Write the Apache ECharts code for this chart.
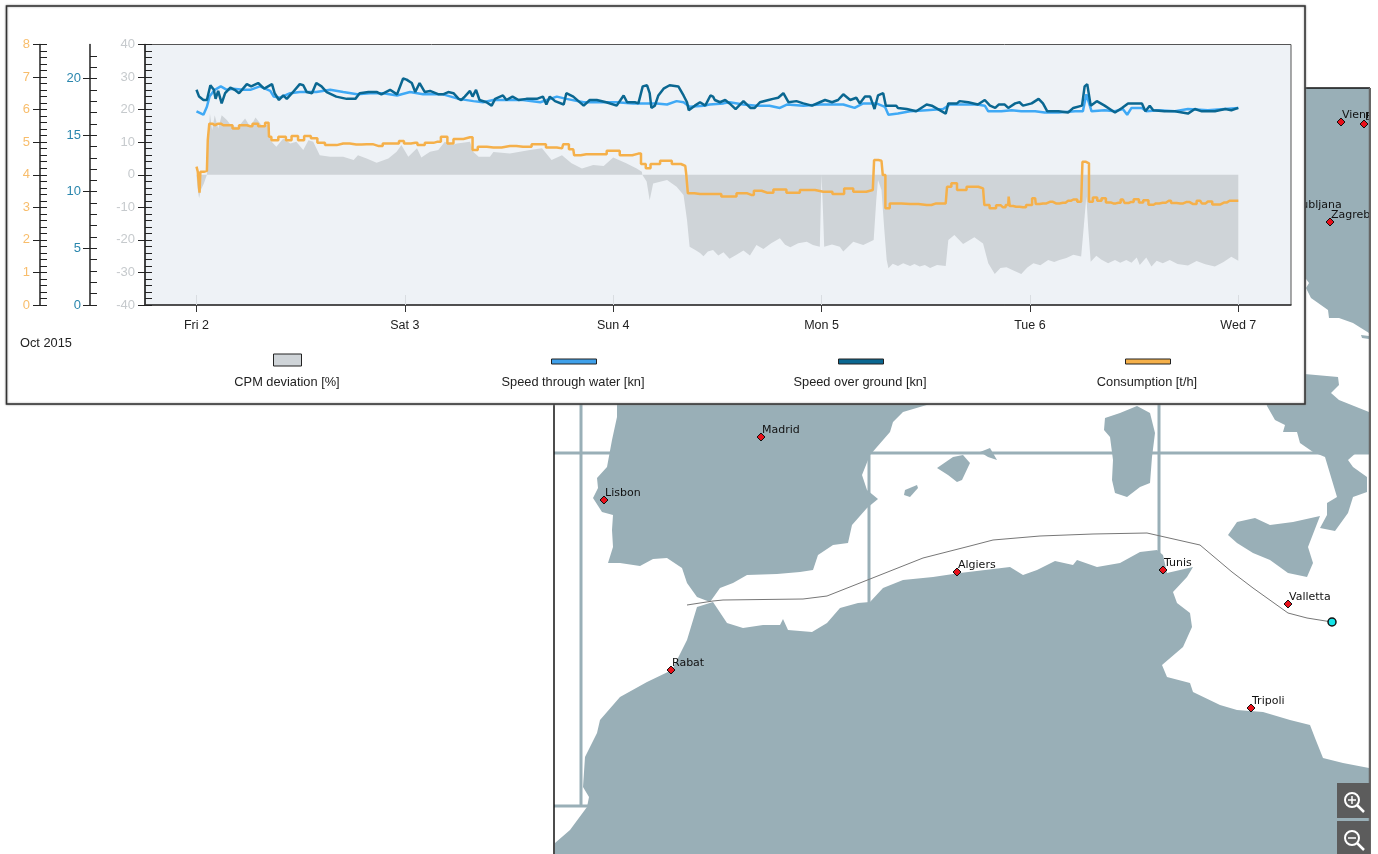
<!DOCTYPE html>
<html>
<head>
<meta charset="utf-8">
<title>Voyage performance</title>
<style>
  html, body { margin: 0; padding: 0; background: #fff; }
  #chart { width: 1378px; height: 854px; }
</style>
<script src="https://cdn.jsdelivr.net/npm/echarts@6/dist/echarts.min.js"></script>
</head>
<body>
<div id="chart"></div>
<script>
// hours counted from Fri 2 Oct 2015 00:00
var dayTicks = [0, 24, 48, 72, 96, 120]
var dayLabels = ['Fri 2', 'Sat 3', 'Sun 4', 'Mon 5', 'Tue 6', 'Wed 7']

var cpmTicks = [-40, -30, -20, -10, 0, 10, 20, 30, 40]
var speedTicks = [0, 5, 10, 15, 20]
var consTicks = [0, 1, 2, 3, 4, 5, 6, 7, 8]

var seriesNames = ['CPM deviation [%]', 'Speed through water [kn]', 'Speed over ground [kn]', 'Consumption [t/h]']

// CPM deviation [%]
var cpmHours = [0, 0.1, 0.3, 0.5, 0.85, 1.2, 1.4, 1.55, 1.8, 2.1, 2.5, 2.9, 3.5, 4.05, 4.8, 5.6, 6.2, 6.8, 7.5, 8.3, 8.5, 9.2, 10, 10.8, 11.5, 12.3, 12.9, 13.45, 14.2, 15.4, 16.9, 18.1, 18.6, 19.6, 20.75, 22.1, 23.05, 23.6, 24.4, 25.4, 25.9, 26.9, 27.85, 28.6, 29.4, 30, 31.5, 31.9, 32.5, 33.8, 34.2, 36.1, 38.4, 39.8, 40.9, 42.1, 43.2, 44.4, 45.7, 46.9, 48, 49.5, 50.7, 51.3, 51.35, 51.85, 52.2, 52.6, 54.2, 55.3, 56.1, 56.5, 56.8, 57.5, 58, 58.4, 58.9, 59.5, 60.1, 60.7, 61.4, 62.2, 63, 63.75, 64.5, 65.3, 66.2, 67.2, 67.8, 68.4, 69.3, 70.3, 71, 71.8, 71.9, 72, 72.15, 72.3, 73.2, 74.1, 74.5, 75.65, 76.8, 78, 78.3, 78.5, 78.9, 79.2, 79.5, 79.7, 80.2, 80.8, 81.4, 82.2, 82.7, 83.3, 83.9, 84.5, 85.3, 86.3, 86.6, 87.3, 88.3, 89.6, 90.6, 91.2, 91.95, 92.6, 93.3, 94.1, 95, 95.7, 96.4, 97.2, 98.1, 98.8, 99.4, 100.2, 101, 101.9, 102.2, 102.5, 102.7, 103, 103.65, 104.2, 105, 105.8, 106.4, 107.1, 107.7, 108.3, 108.65, 109.4, 110, 110.6, 111.3, 112.1, 113, 114.2, 115.2, 116.2, 117.3, 118.3, 119.2, 120]
var cpmValues = [0, -3.7, -7.2, -4.7, -2.7, 0, 12.7, 18.8, 13.7, 18.3, 14.2, 18.3, 16.8, 14.9, 14.7, 17.3, 14.7, 17.6, 15.2, 15.5, 10.6, 8.6, 11.1, 9.6, 10.1, 7.6, 10.6, 10.1, 6, 5.5, 5.5, 4.5, 6, 5, 3.7, 5, 7.1, 9.1, 5.5, 8.1, 5.3, 7.1, 7.6, 10.1, 9.1, 9.6, 10.1, 7, 5.5, 5.5, 7, 6.5, 7.6, 8.1, 4.5, 6, 3.5, 1.9, 3, 2.7, 5.3, 3.5, 1.9, 0.9, 0, -2.1, -7.8, -2.7, -1.6, -3.7, -6.2, -13.9, -22.1, -23.2, -24, -25, -23.6, -23.1, -24.8, -23.8, -25.8, -24.6, -23.3, -24.8, -21.6, -22.8, -21, -19.5, -21.5, -22.3, -21, -20.6, -21.6, -22.1, -10.3, 0, -10.3, -22.1, -21.4, -22.1, -23.6, -20.6, -21.6, -20, -7.8, -1.6, -4.7, -16, -26.2, -28.7, -27.3, -28, -27.2, -28, -27.4, -28.2, -27.7, -28.6, -27.7, -28, -20, -18.5, -21.3, -19.2, -21.1, -27.2, -30.5, -28.6, -28.4, -29.4, -30.5, -28.5, -27.2, -27.8, -26.2, -26.8, -26.2, -25.6, -24.6, -25.1, -16, -6.7, -16, -26.7, -24.9, -26, -27.2, -26.2, -27, -26.2, -27, -25.4, -27.7, -25.4, -28.2, -26.4, -27.2, -26.2, -27.4, -27.9, -26.5, -27.5, -28.2, -26.8, -25.2, -26.4]

// Speed through water [kn]
var stwHours = [0, 0.8, 1.2, 1.5, 2.1, 2.8, 3.5, 4.2, 5.4, 6.2, 7.3, 8.5, 8.9, 9.6, 10.8, 11.9, 13.8, 15.4, 16.9, 18.5, 20, 21.5, 23.1, 24.6, 26.1, 28.4, 30.2, 31.9, 33, 34.2, 36.1, 37.6, 39.6, 41.5, 42.6, 44.6, 46.5, 48.4, 50.3, 51.5, 53, 54.2, 55.3, 56.1, 56.8, 58.4, 59.1, 60.7, 61.4, 63, 64.5, 66, 67.2, 68, 69.9, 71.8, 74.5, 75.8, 76.8, 78.3, 79.3, 79.7, 80.8, 82.2, 84.1, 86, 86.8, 89.9, 90.8, 91.2, 92.7, 93.9, 95, 96.6, 97.7, 99.3, 101.2, 102.1, 102.5, 102.7, 103.1, 104.6, 105.8, 106.7, 107.2, 107.7, 108.9, 109.4, 110.8, 112.7, 114.2, 116.5, 120]
var stwValues = [17.1, 16.8, 17.5, 18.4, 19, 19.3, 19, 19.1, 19, 19, 19.3, 18.9, 18.4, 18.3, 18.7, 18.8, 18.8, 19, 18.8, 18.6, 18.7, 18.7, 18.5, 18.8, 18.6, 18.6, 18.2, 18, 17.9, 18.1, 18.1, 18.1, 17.9, 18.4, 18.2, 17.9, 17.9, 17.9, 17.8, 17.8, 17.8, 17.7, 18, 17.9, 17.5, 17.6, 17.7, 17.8, 17.9, 17.7, 17.6, 17.6, 17.4, 17.7, 17.6, 17.7, 17.7, 17.4, 17.8, 17.8, 17.5, 16.8, 16.9, 17.1, 17.2, 17.3, 17.7, 17.7, 17.6, 17.1, 17.1, 17.2, 17.1, 17.1, 17, 17, 17.1, 17.1, 18.6, 18.6, 17.1, 17.2, 17.1, 17.3, 16.8, 17.4, 17.4, 17.1, 17.2, 17.1, 17.3, 17.2, 17.4]

// Speed over ground [kn]
var sogHours = [0, 0.3, 0.8, 1.2, 1.6, 2, 2.2, 2.5, 2.9, 3.3, 3.9, 4.4, 4.9, 5.8, 6.3, 7.1, 7.8, 8.7, 9, 9.5, 10, 10.4, 11, 11.9, 12.3, 12.7, 13.3, 13.8, 14.4, 15, 16.1, 17.3, 18.3, 18.8, 19.8, 20.8, 21.3, 22.3, 23.1, 23.8, 24.2, 24.8, 25.2, 25.7, 26.3, 26.9, 27.9, 28.4, 29, 29.6, 30.2, 30.5, 30.9, 31.5, 31.8, 32.2, 32.6, 33.4, 34, 34.4, 35.3, 35.7, 36.4, 37.1, 38, 39.2, 39.9, 40.3, 40.7, 41.3, 42.3, 42.6, 43.4, 44, 44.6, 45.3, 46.1, 47.2, 48.4, 49.2, 49.6, 50.5, 50.9, 51.4, 51.9, 52.2, 52.4, 52.8, 53.2, 53.8, 54.5, 55.5, 56.1, 56.5, 56.7, 57.4, 58, 58.6, 59.2, 59.5, 59.7, 60.3, 60.9, 61.4, 62.1, 63, 63.8, 64.3, 64.9, 65.9, 66.4, 67, 67.6, 68.2, 69.1, 69.9, 70.9, 71.8, 72, 72.4, 73.2, 73.9, 74.5, 75.3, 76, 76.4, 77, 77.6, 78.1, 78.5, 79.1, 79.4, 80.6, 80.8, 81.8, 82.9, 84.1, 84.7, 85.4, 86.3, 86.6, 87.6, 87.9, 88.9, 90, 90.4, 90.8, 91.4, 92, 92.4, 93.1, 93.5, 94.3, 94.8, 95.2, 96.2, 97, 97.5, 98, 99.3, 100.4, 101, 102, 102.3, 102.6, 103, 103.7, 104.6, 105.8, 106.6, 107.3, 108.9, 109.3, 109.8, 110.2, 111.5, 112.7, 114.2, 115, 115.8, 117.3, 118.5, 119.2, 120]
var sogValues = [19, 18.4, 18.1, 18.1, 19.4, 19, 18.2, 18.9, 17.8, 18.7, 19.2, 19, 18.7, 19.5, 19.3, 19.6, 19.1, 19.5, 18.7, 18.1, 18.5, 18.2, 18.7, 19.5, 19.4, 18.8, 18.7, 19.6, 19.3, 18.8, 18.4, 18.2, 18.2, 18.7, 18.8, 18.8, 18.6, 19, 18.6, 20, 19.9, 19.6, 18.8, 19.6, 18.8, 18.9, 18.6, 18.6, 18.8, 18.7, 18.2, 18.1, 18.4, 18.9, 18.4, 19, 18.1, 17.9, 17.6, 18.2, 18.5, 18.1, 18.4, 18.1, 18.2, 18.2, 18.4, 17.7, 18.4, 18, 17.7, 18.7, 18.4, 18, 17.6, 18.1, 18.1, 17.9, 17.6, 18.5, 17.9, 17.9, 17.8, 19.3, 19.4, 18.7, 17.4, 17.6, 18.5, 19.1, 19.4, 19.3, 18.5, 17.9, 17.2, 17.6, 17.9, 17.6, 18.5, 18.4, 18.1, 17.9, 18.1, 17.8, 17.3, 18, 17.4, 17.4, 17.9, 18.1, 18.2, 18.3, 18.7, 17.9, 18, 17.8, 17.6, 17.9, 17.8, 18.1, 17.9, 18.1, 18.6, 18.1, 18.3, 17.8, 18.4, 18.4, 17.3, 18.5, 18.7, 17.6, 17.6, 17.4, 17.3, 17.1, 17.7, 17.6, 17.3, 16.9, 17.8, 17.8, 18, 17.9, 17.7, 17.9, 18.1, 17.6, 17.4, 17.7, 17.7, 17.4, 17.8, 17.9, 17.6, 17.8, 18.2, 17.8, 17.1, 17.1, 17, 17.4, 17.6, 19.3, 19.5, 17.6, 18, 17.6, 17, 17.4, 17.8, 17.8, 17.1, 17.6, 17.2, 17.1, 17.1, 16.9, 17.3, 17.1, 17.1, 17.3, 17.2, 17.4]

// Consumption [t/h]
var consHours = [0, 0.3, 0.4, 0.5, 1.2, 1.4, 1.55, 2.1, 2.5, 3.1, 3.9, 4.4, 5.4, 6.2, 6.7, 7.5, 8.3, 8.4, 8.85, 10, 10.6, 11.3, 12.1, 12.7, 13.65, 14.2, 15.4, 16.9, 18.4, 19.6, 21, 21.9, 23.05, 23.6, 24.2, 25.2, 25.7, 26.9, 27.7, 28.6, 29.2, 30, 31.5, 32.1, 32.7, 34.2, 36.1, 37.6, 39.6, 40.9, 42.1, 42.4, 43.4, 43.6, 44.9, 46.5, 48, 49.5, 50.9, 51.5, 52, 52.6, 54.2, 55.3, 56.3, 56.5, 56.7, 58, 59.5, 61.4, 63, 63.9, 64.5, 65.7, 67.2, 68.7, 70.3, 72.2, 74.3, 74.9, 76.4, 77.9, 78.2, 78.9, 79.2, 79.5, 80.2, 82.2, 84.1, 85.2, 86.3, 86.6, 87.3, 87.9, 89.5, 90.6, 90.9, 91.8, 92.4, 92.9, 93.5, 93.6, 93.75, 94.4, 95.2, 95.9, 96.6, 96.75, 97.5, 98.3, 99, 99.8, 100.4, 101, 101.9, 102.2, 102.6, 103, 103.5, 104, 104.5, 105, 105.6, 106.2, 106.7, 107.1, 107.6, 108.3, 108.8, 109.3, 110, 110.5, 111.3, 112, 112.5, 113.3, 114, 114.8, 115.6, 116, 116.5, 117.5, 118.4, 119, 120]
var consValues = [4.25, 4.09, 3.45, 4.09, 4.12, 5.06, 5.57, 5.52, 5.57, 5.52, 5.52, 5.42, 5.52, 5.49, 5.57, 5.49, 5.6, 5.17, 5.06, 5.17, 5.06, 5.19, 5.06, 5.19, 5.12, 4.98, 4.91, 4.96, 4.93, 4.94, 4.88, 4.96, 4.96, 5.04, 4.96, 4.98, 4.91, 4.98, 5.01, 5.17, 4.96, 5.1, 5.15, 4.76, 4.86, 4.84, 4.88, 4.86, 4.94, 4.84, 4.81, 4.94, 4.78, 4.6, 4.63, 4.63, 4.74, 4.6, 4.65, 4.33, 4.2, 4.33, 4.43, 4.33, 4.27, 4.04, 3.43, 3.41, 3.41, 3.33, 3.43, 3.38, 3.51, 3.45, 3.55, 3.45, 3.53, 3.48, 3.41, 3.58, 3.48, 3.53, 4.45, 4.43, 3.99, 2.97, 3.12, 3.1, 3.07, 3.12, 3.12, 3.63, 3.74, 3.53, 3.63, 3.58, 3.07, 2.97, 3.06, 3, 3.07, 3.33, 3.04, 3.02, 3, 3.07, 3.28, 3.1, 3.12, 3.17, 3.12, 3.14, 3.2, 3.24, 3.17, 4.4, 4.35, 3.17, 3.3, 3.2, 3.28, 3.15, 3.12, 3.14, 3.24, 3.13, 3.16, 3.25, 3.15, 3.22, 3.08, 3.12, 3.14, 3.2, 3.13, 3.12, 3.16, 3.1, 3.2, 3.12, 3.18, 3.09, 3.15, 3.2, 3.2]

// map behind the chart, page pixels
var landColor = '#99afb7'
var iberia = [[617,404],[617,417],[612,440],[607,467],[597,478],[598,488],[593,498],[602,512],[613,515],[612,530],[613,547],[608,563],[620,563],[640,566],[653,559],[667,558],[682,568],[687,583],[697,597],[710,602],[720,588],[733,583],[747,575],[777,574],[800,572],[813,570],[818,555],[833,545],[848,543],[852,525],[867,508],[878,499],[867,490],[862,475],[870,455],[890,432],[893,422],[903,412],[930,404]]
var africa = [[555,843],[570,830],[587,807],[589,797],[583,787],[585,757],[597,733],[600,720],[620,697],[647,682],[672,670],[687,640],[697,607],[713,602],[717,608],[727,623],[743,628],[763,625],[780,625],[783,619],[788,630],[812,632],[827,623],[840,608],[858,603],[870,602],[883,588],[903,580],[933,577],[960,573],[1010,567],[1023,575],[1037,570],[1055,561],[1073,565],[1077,560],[1097,567],[1120,563],[1140,552],[1157,550],[1163,555],[1167,573],[1193,567],[1187,577],[1173,592],[1177,603],[1190,613],[1192,627],[1183,647],[1162,665],[1167,677],[1190,683],[1193,692],[1220,705],[1237,710],[1263,712],[1290,720],[1310,725],[1315,738],[1323,758],[1343,763],[1369,768],[1369,854],[555,854]]
var mallorca = [[937,468],[953,457],[963,455],[970,463],[962,480],[957,482],[948,475]]
var minorca = [[980,452],[990,448],[997,460],[988,457]]
var ibiza = [[905,490],[917,485],[918,488],[910,497],[904,495]]
var sardinia = [[1105,418],[1120,413],[1137,406],[1150,413],[1155,433],[1152,457],[1150,483],[1140,487],[1127,497],[1115,493],[1112,480],[1113,460],[1110,437],[1104,430]]
var sicily = [[1228,535],[1237,522],[1255,518],[1270,525],[1293,522],[1320,516],[1308,547],[1313,563],[1307,577],[1288,573],[1270,560],[1253,553],[1237,543]]
var italy = [[1260,370],[1338,377],[1339,385],[1331,393],[1339,400],[1369,412],[1369,452],[1357,452],[1348,460],[1353,467],[1367,477],[1367,492],[1353,497],[1348,513],[1335,531],[1320,528],[1327,515],[1327,503],[1337,497],[1325,457],[1313,452],[1300,443],[1297,432],[1283,432],[1285,425],[1275,420],[1267,406]]
var europe = [[1300,88],[1369,88],[1369,333],[1353,323],[1339,318],[1329,318],[1328,310],[1311,298],[1306,288],[1309,283],[1306,279],[1300,279]]
var route = [[687,605],[713,601],[723,600],[803,599],[827,596],[870,579],[923,558],[970,546],[993,540],[1040,536],[1093,534],[1147,533],[1200,545],[1232,572],[1253,588],[1288,613],[1307,618],[1332,622]]
var gridLines = [[554,453,1369,453],[581,404,581,806],[554,806,590,806],[869,453,869,605],[1159,404,1159,555]]
var cities = [
  ['Madrid', 761, 437], ['Lisbon', 604, 500], ['Rabat', 671, 670], ['Algiers', 957, 572], ['Tunis', 1163, 570],
  ['Valletta', 1288, 604], ['Tripoli', 1251, 708], ['Vienna', 1341, 122], ['Bratislava', 1364, 124], ['Zagreb', 1330, 222]
]

function land(points) {
  return { type: 'polygon', z: -5, silent: true, shape: { points: points }, style: { fill: landColor } }
}
function line(x1, y1, x2, y2, color, width, z) {
  return { type: 'line', z: z, silent: true, shape: { x1: x1, y1: y1, x2: x2, y2: y2 }, style: { stroke: color, lineWidth: width } }
}
function label(text, x, y, z, style) {
  var s = { text: text, x: x, y: y, fill: '#222', font: '12.8px "Liberation Sans"', textAlign: 'left', textVerticalAlign: 'middle' }
  for (var k in style) s[k] = style[k]
  return { type: 'text', z: z, silent: true, style: s }
}

function mapElements() {
  var els = [iberia, africa, mallorca, minorca, ibiza, sardinia, sicily, italy, europe].map(land)
  els.push({ type: 'polygon', z: -5, silent: true, shape: { points: [[1361,335],[1369,336],[1369,339],[1362,338]] }, style: { fill: landColor } })
  gridLines.forEach(function (g) { els.unshift(line(g[0], g[1], g[2], g[3], landColor, 3, -6)) })
  els.push({ type: 'polyline', z: -4, silent: true, shape: { points: route }, style: { stroke: '#777', lineWidth: 1, fill: null } })
  cities.forEach(function (c) {
    els.push({ type: 'polygon', z: -3, silent: true, shape: { points: [[c[1], c[2] - 4], [c[1] + 4, c[2]], [c[1], c[2] + 4], [c[1] - 4, c[2]]] }, style: { fill: '#e8101a', stroke: '#111', lineWidth: 1 } })
    els.push(label(c[0], c[1] + 1, c[2] - 7, -3, { font: '11px "DejaVu Sans"', fill: '#111' }))
  })
  els.push(label('Ljubljana', 1292, 205, -3, { font: '11px "DejaVu Sans"', fill: '#111' }))
  els.push({ type: 'circle', z: -3, silent: true, shape: { cx: 1332, cy: 622, r: 4 }, style: { fill: '#16e4e8', stroke: '#111', lineWidth: 1.5 } })
  // edges of the map pane
  els.push(line(554, 404, 554, 854, '#111', 1.5, -2))
  els.push(line(1305, 88, 1370, 88, '#111', 1.5, -2))
  els.push(line(1370, 88, 1370, 854, '#666', 2.5, -2))
  els.push({ type: 'rect', z: -2, silent: true, shape: { x: 1371, y: 0, width: 7, height: 854 }, style: { fill: '#fff' } })
  // zoom buttons
  ;[[783, '+'], [821, '-']].forEach(function (b) {
    var cy = b[0] + 17
    els.push({ type: 'rect', z: -2, silent: true, shape: { x: 1337, y: b[0], width: 33, height: 35 }, style: { fill: '#5c5c5c' } })
    els.push({ type: 'circle', z: -2, silent: true, shape: { cx: 1352, cy: cy, r: 7 }, style: { fill: null, stroke: '#fff', lineWidth: 2 } })
    els.push(line(1357, cy + 5, 1364, cy + 12, '#fff', 2.5, -2))
    els.push(line(1348, cy, 1356, cy, '#fff', 1.5, -2))
    if (b[1] === '+') els.push(line(1352, cy - 4, 1352, cy + 4, '#fff', 1.5, -2))
  })
  return els
}

function legendElements() {
  var els = []
  var swatchColors = ['#cfd4d8', '#3fa0ea', '#0a6791', '#f5b04a']
  var centers = [287, 573, 860, 1147]
  seriesNames.forEach(function (name, i) {
    var shape = i === 0 ? { x: 273.5, y: 354, width: 28, height: 12 } : { x: centers[i] - 22.5 + 1, y: 359, width: 45, height: 5 }
    els.push({ type: 'rect', z: 5, silent: true, shape: shape, style: { fill: swatchColors[i], stroke: '#222', lineWidth: 1 } })
    els.push(label(name, centers[i], 382, 5, { textAlign: 'center' }))
  })
  els.push(label('Oct 2015', 20, 343, 5, {}))
  return els
}

// every y axis comes twice: one drawn outwards with the labels, one with the inner ticks
function yAxes(min, max, interval, ticks, color, offset, margin) {
  var lineStyle = { color: '#222', width: 1 }
  return [
    {
      type: 'value', position: 'left', offset: offset, min: min, max: max, interval: interval,
      axisLine: { show: true, onZero: false, lineStyle: { color: '#222', width: 1.5 } },
      axisTick: { show: true, length: 7, customValues: ticks, lineStyle: lineStyle },
      axisLabel: { show: true, margin: margin, customValues: ticks, color: color, fontSize: 13, fontFamily: 'Liberation Sans' },
      splitLine: { show: false }
    },
    {
      type: 'value', position: 'left', offset: offset, min: min, max: max, interval: interval,
      axisLine: { show: false, onZero: false },
      axisTick: { show: true, inside: true, length: 7, customValues: ticks, lineStyle: lineStyle },
      minorTick: { show: true, splitNumber: 5, length: 7, lineStyle: lineStyle },
      axisLabel: { show: false },
      splitLine: { show: false }
    }
  ]
}

function pairs(hours, values) {
  return hours.map(function (h, i) { return [h, values[i]] })
}

var myChart = echarts.init(document.getElementById('chart'))
var option = {
  animation: false,
  backgroundColor: '#fff',
  textStyle: { fontFamily: 'Liberation Sans' },
  graphic: {
    elements: mapElements().concat([
      { type: 'rect', z: -1, silent: true, shape: { x: 6.5, y: 6, width: 1298.5, height: 398 }, style: { fill: '#fff', stroke: '#333', lineWidth: 1.5, shadowBlur: 2, shadowColor: '#888' } }
    ], legendElements())
  },
  grid: { left: 145, right: 87, top: 44.5, bottom: 549, show: true, backgroundColor: '#eef2f6', borderColor: '#555', borderWidth: 1 },
  xAxis: [
    {
      type: 'value', min: -5.93, max: 126.07,
      axisLine: { show: true, onZero: false, lineStyle: { color: '#333', width: 1.5 } },
      axisTick: { show: true, length: 7, customValues: dayTicks, lineStyle: { color: '#333' } },
      axisLabel: {
        show: true, margin: 14, customValues: dayTicks, color: '#222', fontSize: 12.5, fontFamily: 'Liberation Sans',
        formatter: function (v) { return dayLabels[dayTicks.indexOf(v)] }
      },
      splitLine: { show: false }
    },
    {
      type: 'value', min: -5.93, max: 126.07, position: 'bottom',
      axisLine: { show: false, onZero: false },
      axisTick: { show: true, inside: true, length: 10, customValues: dayTicks, lineStyle: { color: '#d9dde1' } },
      axisLabel: { show: false },
      splitLine: { show: false }
    }
  ],
  yAxis: [].concat(
    yAxes(-40, 40, 10, cpmTicks, '#c6cacd', 0, 10),
    yAxes(0, 23, 5, speedTicks, '#2a86ad', 55, 9),
    yAxes(0, 8, 1, consTicks, '#f8bd6b', 105, 10)
  ),
  series: [
    {
      name: seriesNames[0], type: 'line', xAxisIndex: 0, yAxisIndex: 0, data: pairs(cpmHours, cpmValues),
      showSymbol: false, lineStyle: { width: 0 }, areaStyle: { color: '#cfd4d8', opacity: 1 }, z: 2
    },
    {
      name: seriesNames[1], type: 'line', xAxisIndex: 0, yAxisIndex: 2, data: pairs(stwHours, stwValues),
      showSymbol: false, lineStyle: { color: '#3fa9f5', width: 2.5 }, z: 3
    },
    {
      name: seriesNames[2], type: 'line', xAxisIndex: 0, yAxisIndex: 2, data: pairs(sogHours, sogValues),
      showSymbol: false, lineStyle: { color: '#0a6791', width: 2.5 }, z: 4
    },
    {
      name: seriesNames[3], type: 'line', xAxisIndex: 0, yAxisIndex: 4, data: pairs(consHours, consValues), step: 'middle',
      showSymbol: false, lineStyle: { color: '#f5b04a', width: 2.5 }, z: 5
    }
  ]
}
myChart.setOption(option)
</script>
</body>
</html>
